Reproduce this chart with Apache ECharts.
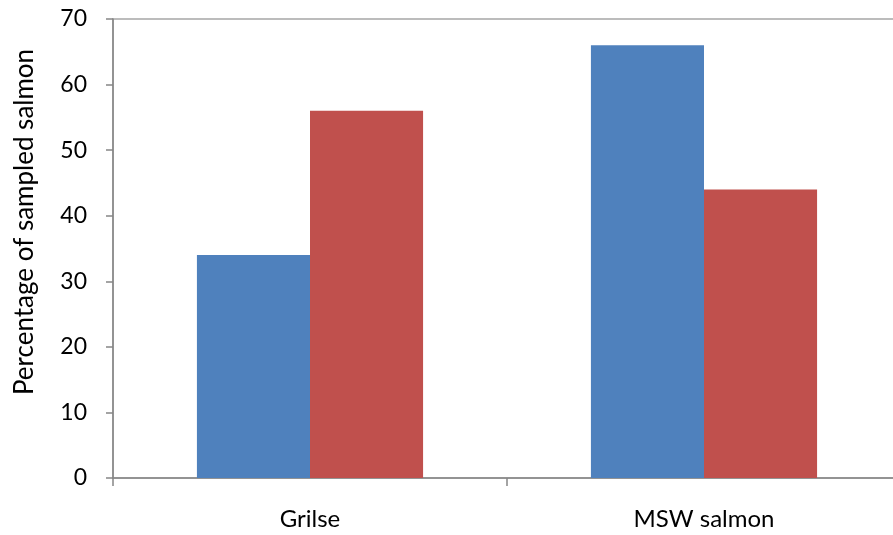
<!DOCTYPE html>
<html>
<head>
<meta charset="utf-8">
<script src="https://cdn.jsdelivr.net/npm/echarts@6/dist/echarts.min.js"></script>
<style>
  html, body { margin: 0; padding: 0; background: #fff; }
  #chart { width: 893px; height: 535px; }
</style>
</head>
<body>
<div id="chart"></div>
<script>
// Salmon age classes and the share of each in two samples
const categories = ['Grilse', 'MSW salmon'];
const seriesA = [34, 66];
const seriesB = [56, 44];
const yTicks = { min: 0, max: 70, interval: 10 };
const yTitle = 'Percentage of sampled salmon';

const chart = echarts.init(document.getElementById('chart'), null, { renderer: 'canvas' });
const font = 'Lato, "Open Sans", sans-serif';

chart.setOption({
  animation: false,
  grid: {
    left: 113, top: 19, width: 788, height: 459,
    outerBoundsMode: 'none',
    show: true, borderColor: '#a6a6a6', borderWidth: 1.5, backgroundColor: 'transparent'
  },
  graphic: [{
    type: 'text',
    x: 25, y: 222,
    rotation: Math.PI / 2,
    style: {
      text: yTitle,
      font: '26px ' + font,
      fill: '#000',
      align: 'center',
      verticalAlign: 'middle'
    }
  }],
  xAxis: {
    type: 'category',
    data: categories,
    axisLine: { lineStyle: { color: '#868686', width: 1.5 } },
    axisTick: { show: true, length: 8, lineStyle: { color: '#868686', width: 1.5 } },
    axisLabel: { color: '#000', fontFamily: font, fontSize: 24, margin: 29 },
    splitLine: { show: false }
  },
  yAxis: {
    type: 'value',
    min: yTicks.min, max: yTicks.max, interval: yTicks.interval,
    axisLine: { show: true, lineStyle: { color: '#868686', width: 1.5 } },
    axisTick: { show: true, length: 7, lineStyle: { color: '#868686', width: 1.5 } },
    axisLabel: { color: '#000', fontFamily: font, fontSize: 23, margin: 26 },
    splitLine: { show: false }
  },
  series: [
    {
      type: 'bar', data: seriesA, barGap: '0%', barCategoryGap: '42.6%',
      itemStyle: { color: '#4f81bd' }
    },
    {
      type: 'bar', data: seriesB, barGap: '0%', barCategoryGap: '42.6%',
      itemStyle: { color: '#c0504d' }
    }
  ]
});
</script>
</body>
</html>
